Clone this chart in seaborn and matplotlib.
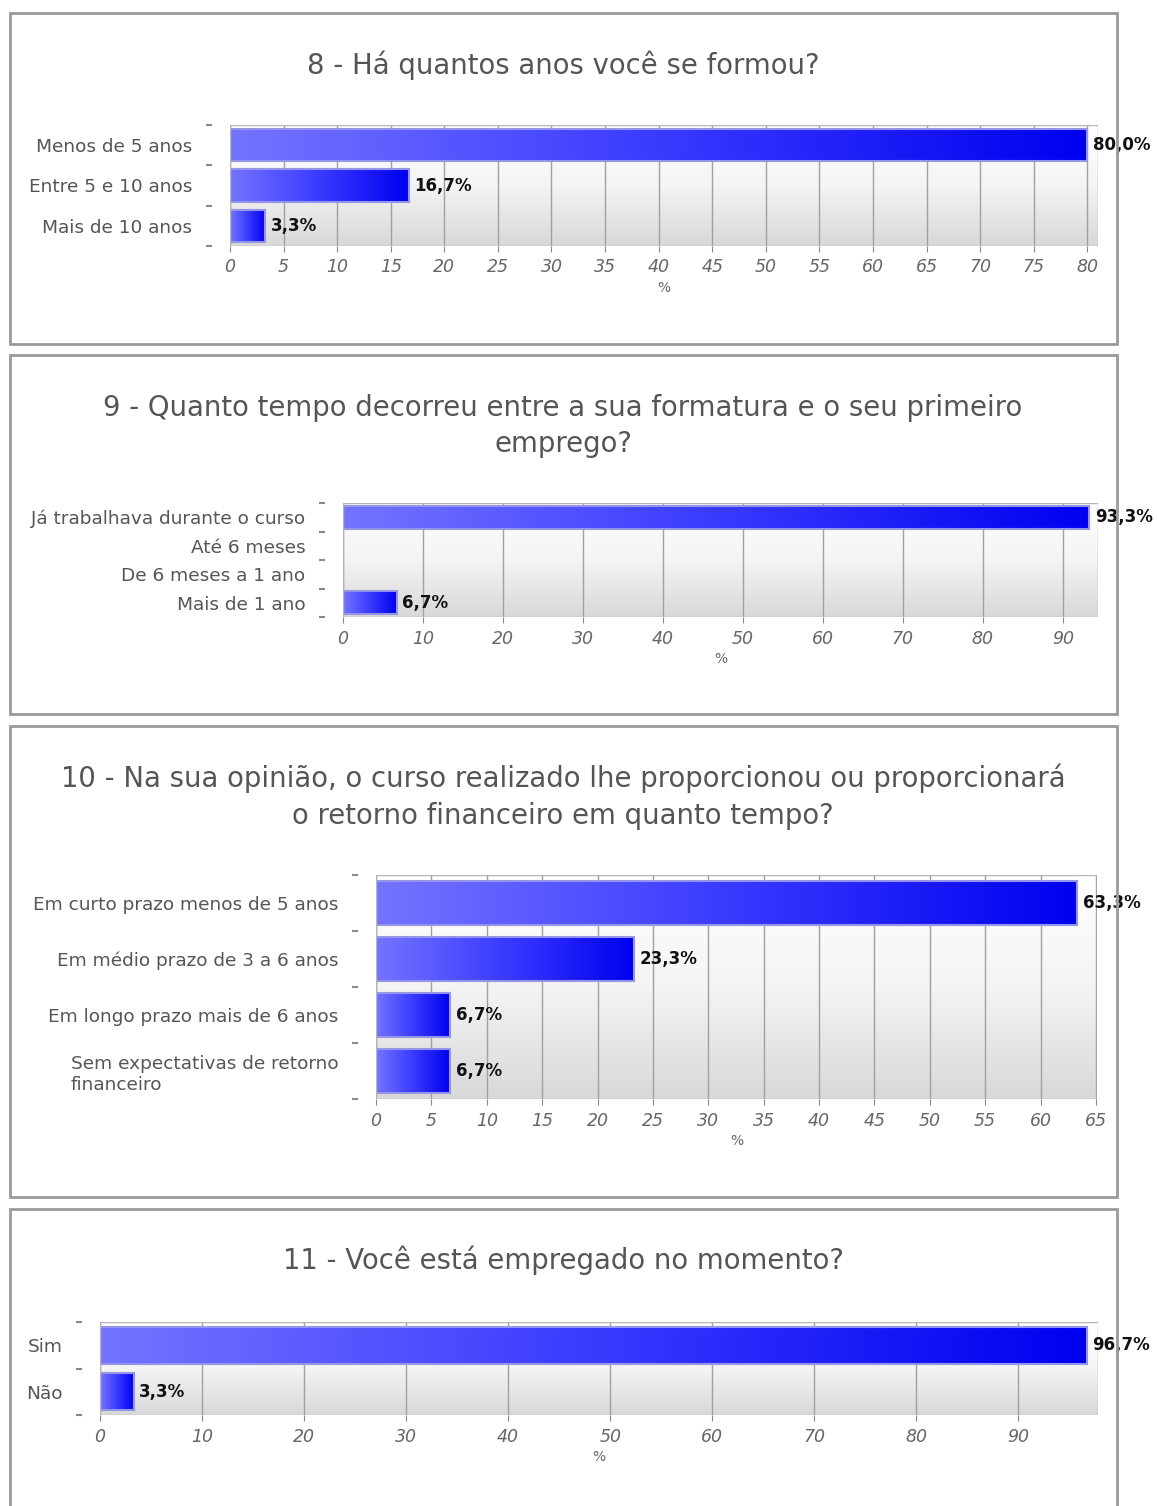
import numpy as np
import pandas as pd
import matplotlib
matplotlib.use("Agg")
import matplotlib.pyplot as plt
import seaborn as sns
from matplotlib.colors import LinearSegmentedColormap
from matplotlib.patches import Rectangle

# dados das quatro perguntas (%)
q8_title = "8 - Há quantos anos você se formou?"
q8_labels = ["Menos de 5 anos", "Entre 5 e 10 anos", "Mais de 10 anos"]
q8_values = [80.0, 16.7, 3.3]
q8_ticks = list(range(0, 81, 5))

q9_title = "9 - Quanto tempo decorreu entre a sua formatura e o seu primeiro\nemprego?"
q9_labels = ["Já trabalhava durante o curso", "Até 6 meses", "De 6 meses a 1 ano", "Mais de 1 ano"]
q9_values = [93.3, 0.0, 0.0, 6.7]
q9_ticks = list(range(0, 91, 10))

q10_title = ("10 - Na sua opinião, o curso realizado lhe proporcionou ou proporcionará\n"
             "o retorno financeiro em quanto tempo?")
q10_labels = ["Em curto prazo menos de 5 anos", "Em médio prazo de 3 a 6 anos",
              "Em longo prazo mais de 6 anos", "Sem expectativas de retorno\nfinanceiro"]
q10_values = [63.3, 23.3, 6.7, 6.7]
q10_ticks = list(range(0, 66, 5))

q11_title = "11 - Você está empregado no momento?"
q11_labels = ["Sim", "Não"]
q11_values = [96.7, 3.3]
q11_ticks = list(range(0, 91, 10))

W, H = 1157, 1506
fig = plt.figure(figsize=(W / 100, H / 100), dpi=100)
fig.patch.set_facecolor("white")

bar_cmap = LinearSegmentedColormap.from_list("barra", ["#7474ff", "#3a3aff", "#0000f0"])
bg_cmap = LinearSegmentedColormap.from_list("fundo", ["#ffffff", "#f4f4f4", "#d8d8d8"])


def px_axes(left, top, right, bottom):
    return fig.add_axes([left / W, 1 - bottom / H, (right - left) / W, (bottom - top) / H])


def panel_box(top, bottom):
    fig.add_artist(Rectangle((10 / W, 1 - bottom / H), 1107 / W, (bottom - top) / H,
                             transform=fig.transFigure, fill=False, ec="#9a9a9a", lw=2))


def draw_panel(ax, labels, values, ticks, xmax):
    n = len(labels)
    df = pd.DataFrame({"resp": labels, "pct": values})
    sns.barplot(data=df, x="pct", y="resp", orient="h", color="#3333ff",
                width=0.8, ax=ax, zorder=3)

    # fundo em degradê
    ax.imshow(np.linspace(0, 1, 256).reshape(-1, 1), cmap=bg_cmap, aspect="auto",
              extent=[0, 1, 0, 1], transform=ax.transAxes, zorder=0)

    # barras em degradê
    grad = np.linspace(0, 1, 256).reshape(1, -1)
    for p in ax.patches:
        x0, y0 = p.get_x(), p.get_y()
        w, h = p.get_width(), p.get_height()
        if w <= 0:
            continue
        p.set_facecolor("none")
        p.set_edgecolor("#9494e8")
        p.set_linewidth(1.5)
        im = ax.imshow(grad, cmap=bar_cmap, aspect="auto",
                       extent=[x0, x0 + w, y0 + h, y0], zorder=2.5)
        im.set_clip_path(p)

    for i, v in enumerate(values):
        if v > 0:
            ax.annotate(f"{v:.1f}%".replace(".", ","), xy=(v, i), xytext=(4, 0),
                        textcoords="offset points", va="center", ha="left",
                        fontsize=12, fontweight="bold", color="#111111", zorder=6)

    ax.set_xlim(0, xmax)
    ax.set_ylim(n - 0.5, -0.5)
    ax.set_xticks(ticks)
    ax.set_yticks(np.arange(-0.5, n), minor=True)
    ax.xaxis.grid(True, color="#a0a0a0", lw=1)
    ax.set_axisbelow(True)

    for s in ax.spines.values():
        s.set_visible(False)
    ax.spines["left"].set_position(("outward", 13))
    ax.add_patch(Rectangle((0, 0), 1, 1, transform=ax.transAxes, fill=False,
                           ec="#b5b5b5", lw=1, zorder=4))

    ax.tick_params(axis="y", which="major", length=0, pad=14, labelsize=13.3, labelcolor="#555555")
    ax.tick_params(axis="y", which="minor", length=4.5, width=1.5, color="#888888")
    ax.tick_params(axis="x", length=4, color="#888888", labelsize=12.5, labelcolor="#666666", pad=5)
    for lbl in ax.get_xticklabels():
        lbl.set_style("italic")
    for lbl in ax.get_yticklabels():
        lbl.set_multialignment("left")
    ax.set_xlabel("%", fontsize=10, color="#666666", labelpad=3)
    ax.set_ylabel("")


# molduras dos painéis
panel_box(13, 344)
panel_box(355, 714)
panel_box(726, 1197)
panel_box(1209, 1530)

# títulos
title_kw = dict(ha="center", va="center", fontsize=19.8, color="#555555", linespacing=1.4)
fig.text(563 / W, 1 - 65 / H, q8_title, **title_kw)
fig.text(563 / W, 1 - 426 / H, q9_title, **title_kw)
fig.text(563 / W, 1 - 797 / H, q10_title, **title_kw)
fig.text(563 / W, 1 - 1260 / H, q11_title, **title_kw)

draw_panel(px_axes(230, 125, 1098, 246), q8_labels, q8_values, q8_ticks, 81)
draw_panel(px_axes(343, 503, 1098, 617), q9_labels, q9_values, q9_ticks, 94.4)
draw_panel(px_axes(376, 875, 1097, 1099), q10_labels, q10_values, q10_ticks, 65.1)
draw_panel(px_axes(100, 1322, 1098, 1415), q11_labels, q11_values, q11_ticks, 97.8)

fig.savefig("out.png", dpi=100)
